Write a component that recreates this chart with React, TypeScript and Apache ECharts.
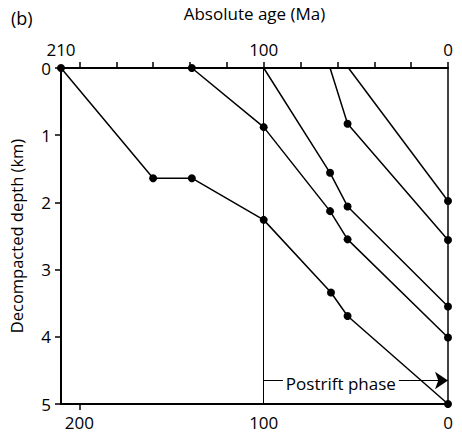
import React, { useEffect, useRef } from "react";
import * as echarts from "echarts";

// Absolute age (Ma) and decompacted depth (km) for each burial curve
const ages1 = [210, 160, 139, 100, 63.5, 54.5, 0];
const depths1 = [0, 1.64, 1.64, 2.26, 3.34, 3.69, 5.0];
const ages2 = [139, 100, 64, 54.5, 0];
const depths2 = [0, 0.88, 2.13, 2.55, 4.01];
const ages3 = [100, 64, 54.5, 0];
const depths3 = [0, 1.56, 2.06, 3.55];
const ages4 = [64, 54.5, 0];
const depths4 = [0, 0.83, 2.56];
const ages5 = [54, 0];
const depths5 = [0, 1.98];
// whether the first point of each curve carries a dot
const firstDot = [true, true, false, false, false];

const topTickValues = [0, 20, 40, 60, 80, 100, 120, 140, 160, 180, 200];
const topLabelValues = [210, 100, 0];
const bottomTickValues = [200];
const bottomLabelValues = [200, 100, 0];

const postriftStart = 100;
const postriftEnd = 0;
const postriftDepth = 4.65;

const FONT = "'Open Sans', sans-serif";

export default function App() {
  const ref = useRef<HTMLDivElement>(null);
  useEffect(() => {
    if (!ref.current) return;
    const chart = echarts.init(ref.current, null, { renderer: "svg" });
    const curves = [
      [ages1, depths1],
      [ages2, depths2],
      [ages3, depths3],
      [ages4, depths4],
      [ages5, depths5],
    ];
    const series: any[] = curves.map(([a, d], i) => ({
      type: "line",
      xAxisIndex: 0,
      yAxisIndex: 0,
      symbol: "circle",
      symbolSize: 8,
      showAllSymbol: true,
      itemStyle: { color: "#000" },
      lineStyle: { color: "#000", width: 1.5 },
      data: a.map((x, j) =>
        j === 0 && !firstDot[i]
          ? { value: [x, d[j]], symbol: "none" }
          : { value: [x, d[j]] }
      ),
      z: 3,
    }));
    series.push({
      type: "line",
      xAxisIndex: 0,
      yAxisIndex: 0,
      data: [],
      markLine: {
        silent: true,
        animation: false,
        symbol: ["none", "none"],
        lineStyle: { color: "#000", width: 1, type: "solid" },
        label: { show: false },
        data: [{ xAxis: postriftStart }],
      },
    });
    series.push({
      type: "line",
      xAxisIndex: 0,
      yAxisIndex: 0,
      data: [],
      markLine: {
        silent: true,
        animation: false,
        symbol: ["none", "arrow"],
        symbolSize: 13,
        lineStyle: { color: "#000", width: 1.2, type: "solid" },
        itemStyle: { color: "#000" },
        label: {
          show: true,
          position: "middle",
          formatter: "Postrift phase",
          fontFamily: FONT,
          fontSize: 17,
          color: "#000",
          backgroundColor: "#fff",
          padding: [0, 3],
          distance: 0,
          offset: [-15, 12],
        },
        data: [
          [
            { coord: [postriftStart, postriftDepth] },
            { coord: [postriftEnd, postriftDepth] },
          ],
        ],
      },
    });

    const axisText = { fontFamily: FONT, fontSize: 17, color: "#000" };

    chart.setOption({
      animation: false,
      title: {
        text: "(b)",
        left: 6,
        top: 4,
        textStyle: { fontFamily: FONT, fontSize: 18, fontWeight: "normal", color: "#000" },
      },
      grid: { left: 59, right: 14, top: 63, bottom: 33 },
      xAxis: [
        {
          type: "value",
          position: "top",
          inverse: true,
          min: 0,
          max: 210,
          name: "Absolute age (Ma)",
          nameLocation: "middle",
          nameGap: 46,
          nameTextStyle: axisText,
          axisLine: { show: true, onZero: false, lineStyle: { color: "#000", width: 2 } },
          axisTick: {
            show: true,
            inside: false,
            length: 6,
            customValues: topTickValues,
            lineStyle: { color: "#000", width: 1.5 },
          },
          axisLabel: { ...axisText, customValues: topLabelValues, margin: 10 },
          splitLine: { show: false },
        },
        {
          type: "value",
          position: "bottom",
          inverse: true,
          min: 0,
          max: 210,
          axisLine: { show: true, onZero: false, lineStyle: { color: "#000", width: 2 } },
          axisTick: {
            show: true,
            inside: false,
            length: 6,
            customValues: bottomTickValues,
            lineStyle: { color: "#000", width: 1.5 },
          },
          axisLabel: { ...axisText, customValues: bottomLabelValues, margin: 10 },
          splitLine: { show: false },
        },
      ],
      yAxis: [
        {
          type: "value",
          position: "left",
          inverse: true,
          min: 0,
          max: 5,
          interval: 1,
          name: "Decompacted depth (km)",
          nameLocation: "middle",
          nameGap: 36,
          nameRotate: 90,
          nameTextStyle: { ...axisText, fontSize: 16.5 },
          axisLine: { show: true, onZero: false, lineStyle: { color: "#000", width: 2 } },
          axisTick: { show: true, inside: false, length: 6, lineStyle: { color: "#000", width: 1.5 } },
          axisLabel: { ...axisText, margin: 10 },
          splitLine: { show: false },
        },
        {
          type: "value",
          position: "right",
          inverse: true,
          min: 0,
          max: 5,
          axisLine: { show: true, onZero: false, lineStyle: { color: "#000", width: 1.5 } },
          axisTick: { show: false },
          axisLabel: { show: false },
          splitLine: { show: false },
        },
      ],
      series,
    });
    return () => chart.dispose();
  }, []);
  return <div ref={ref} style={{ width: 462, height: 437, position: "absolute", left: 0, top: 0 }} />;
}
